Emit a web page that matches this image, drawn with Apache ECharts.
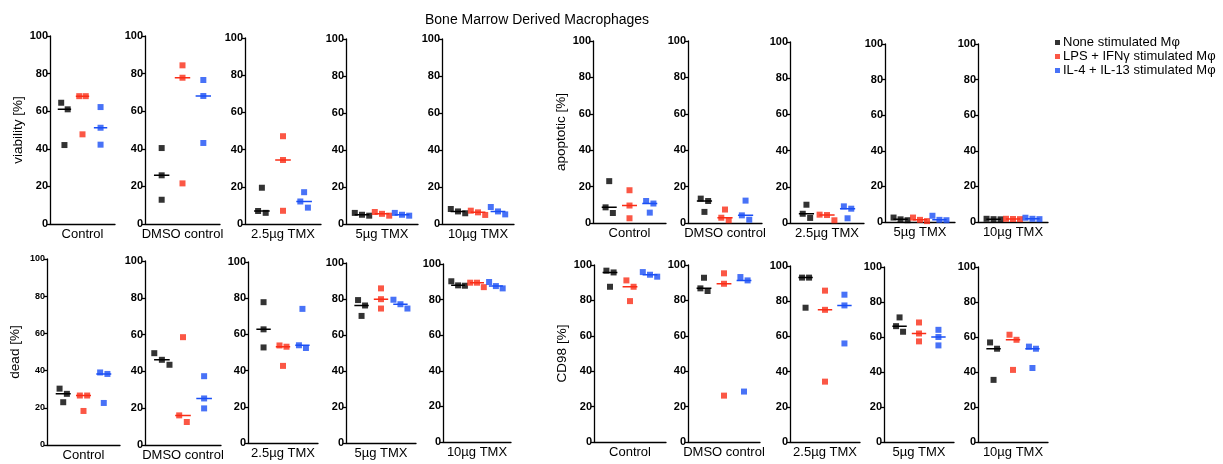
<!DOCTYPE html>
<html>
<head>
<meta charset="utf-8">
<title>Bone Marrow Derived Macrophages</title>
<script src="https://cdn.jsdelivr.net/npm/echarts@6/dist/echarts.min.js"></script>
<style>
html, body { margin: 0; padding: 0; background: #fff; }
#chart { width: 1223px; height: 464px; }
</style>
</head>
<body>
<div id="chart"></div>
<script>
const treatments = ['Control', 'DMSO control', '2.5µg TMX', '5µg TMX', '10µg TMX'];
const groupNames = ['None stimulated Mφ', 'LPS + IFNγ stimulated Mφ', 'IL-4 + IL-13 stimulated Mφ'];
const measureNames = ['viability [%]', 'apoptotic [%]', 'dead [%]', 'CD98 [%]'];

// one entry per treatment: [none, LPS + IFNγ, IL-4 + IL-13], three replicates each
const viability = [
  [[64.5, 61, 42], [68, 68, 47.7], [62.2, 51.2, 42.2]],
  [[40.4, 25.9, 12.9], [84.4, 77.8, 21.6], [76.6, 68.1, 43.1]],
  [[19.5, 7, 6], [47.2, 34.4, 7.1], [17.1, 12.1, 8.8]],
  [[6, 5, 4.5], [6.5, 5.5, 4.5], [6, 5, 4.5]],
  [[8.1, 6.8, 5.8], [7.2, 6.3, 4.9], [9.2, 6.8, 5.2]]
];
const apoptotic = [
  [[23, 8.6, 5.5], [18, 9.6, 2.6], [12.1, 10.7, 5.7]],
  [[13.4, 12.1, 6.1], [7.4, 2.9, 1.5], [12.3, 4.2, 1.8]],
  [[10.1, 5.1, 2.8], [4.6, 4.4, 1.5], [9.2, 7.9, 2.6]],
  [[2.5, 1.5, 1], [2.5, 1.2, 0.5], [3.5, 1.2, 1]],
  [[1.8, 1.6, 1.5], [1.8, 1.7, 1.6], [2.4, 1.8, 1.6]]
];
const dead = [
  [[30.3, 27.5, 23], [26.6, 26.6, 18.3], [39, 38.2, 22.6]],
  [[49.9, 46.3, 43.6], [58.6, 16.1, 12.5], [37.4, 25.3, 19.9]],
  [[77.8, 62.8, 52.8], [53.9, 53.2, 42.6], [74.1, 54, 52.5]],
  [[79.4, 76.4, 70.6], [85.9, 79.9, 74.7], [79.6, 77.1, 74.7]],
  [[90.3, 88, 87.8], [89.5, 89.5, 87], [89.9, 87.6, 86.3]]
];
const cd98 = [
  [[96.8, 95.8, 87.7], [91.3, 87.7, 79.6], [96, 94.5, 93.4]],
  [[92.8, 86.8, 85.3], [95.3, 89.4, 26.2], [93.2, 91.3, 28.5]],
  [[93.4, 93.4, 76.3], [86, 75.1, 34.3], [83.7, 77.6, 56]],
  [[71.2, 66.2, 63], [68.3, 62, 57.5], [64.1, 60, 55.2]],
  [[56.9, 53.3, 35.5], [61.3, 58.4, 41.2], [54.5, 53.3, 42.3]]
];
const measures = [viability, apoptotic, dead, cd98];

const colors = ['#000000', '#fa2d16', '#1a4ff5'];

// panel boxes [left, top, right, bottom] in px, per measure
const boxes = [
  [[50, 36, 115, 224], [145, 36, 220, 224], [245, 38, 321, 224], [346, 39, 418, 224], [442, 39, 514, 224]],
  [[593, 41, 666, 223], [688, 41, 762, 223], [790, 42, 864, 223], [885, 44, 955, 222], [978, 44, 1048, 222]],
  [[47, 259, 120, 445], [145, 261, 221, 445], [248, 262, 318, 443], [346, 263, 416, 443], [443, 264, 511, 442]],
  [[594, 265, 666, 442], [688, 265, 760, 442], [790, 266, 860, 442], [884, 267, 954, 442], [978, 267, 1048, 442]]
];

const JITTER = 0.36;   // x units between neighbouring points
const CLOSE = 4;       // y units under which points are spread sideways
const HALF = 0.37;     // half length of median bar

// spread points that would overlap, like a column scatter
function spread(values) {
  const idx = values.map((v, i) => i).sort((a, b) => values[b] - values[a]);
  const offsets = values.map(() => 0);
  let cluster = [idx[0]];
  const flush = () => {
    cluster.forEach((k, j) => { offsets[k] = (j - (cluster.length - 1) / 2) * JITTER; });
  };
  for (let j = 1; j < idx.length; j++) {
    if (values[cluster[cluster.length - 1]] - values[idx[j]] < CLOSE) cluster.push(idx[j]);
    else { flush(); cluster = [idx[j]]; }
  }
  flush();
  return offsets;
}

function median(values) {
  const s = values.slice().sort((a, b) => a - b);
  return s[Math.floor(s.length / 2)];
}

const font = 'Liberation Sans, Arial, Helvetica, sans-serif';
const grid = [], xAxis = [], yAxis = [], series = [];

measures.forEach((measure, m) => {
  measure.forEach((panel, p) => {
    const g = grid.length;
    const b = boxes[m][p];
    grid.push({ left: b[0], top: b[1], width: b[2] - b[0], height: b[3] - b[1] });

    xAxis.push({
      type: 'category', gridIndex: g, data: [treatments[p]],
      axisLine: { lineStyle: { color: '#000', width: 1.3 } },
      axisTick: { alignWithLabel: true, length: 3, lineStyle: { color: '#000', width: 1.3 } },
      axisLabel: { fontSize: 13, color: '#000', margin: 4, fontFamily: font }
    });
    xAxis.push({ type: 'value', gridIndex: g, min: 0.2, max: 3.8, show: false });

    yAxis.push({
      type: 'value', gridIndex: g, min: 0, max: 100, interval: 20,
      name: p === 0 ? measureNames[m] : '',
      nameLocation: 'middle', nameGap: 25, nameRotate: 90,
      nameTextStyle: { fontSize: 13.5, color: '#000', fontFamily: font },
      axisLine: { show: true, lineStyle: { color: '#000', width: 1.3 } },
      axisTick: { show: true, length: 3, lineStyle: { color: '#000', width: 1.3 } },
      axisLabel: {
        fontSize: (m === 2 && p === 0) ? 9 : 11, fontWeight: 'bold',
        color: '#000', margin: 2, fontFamily: font
      },
      splitLine: { show: false }
    });

    panel.forEach((values, k) => {
      const off = spread(values);
      const med = median(values);
      series.push({
        type: 'scatter', name: groupNames[k], xAxisIndex: 2 * g + 1, yAxisIndex: g,
        symbol: 'rect', symbolSize: 6, z: 3,
        itemStyle: { color: colors[k] },
        data: values.map((v, i) => [k + 1 + off[i], v])
      });
      series.push({
        type: 'line', xAxisIndex: 2 * g + 1, yAxisIndex: g,
        symbol: 'none', silent: true, z: 2,
        lineStyle: { color: colors[k], width: 1.5 },
        data: [[k + 1 - HALF, med], [k + 1 + HALF, med]]
      });
    });
  });
});

const chart = echarts.init(document.getElementById('chart'));
chart.setOption({
  animation: false,
  textStyle: { fontFamily: font },
  title: {
    text: 'Bone Marrow Derived Macrophages', left: 420, top: 8,
    textStyle: { fontSize: 14, fontWeight: 'normal', color: '#000', fontFamily: font }
  },
  legend: {
    data: groupNames, orient: 'vertical', left: 1050, top: 31,
    icon: 'rect', itemWidth: 5, itemHeight: 5, itemGap: 1, selectedMode: false,
    textStyle: { fontSize: 13, color: '#000', padding: [0, 0, 0, -2], fontFamily: font }
  },
  grid, xAxis, yAxis, series
});
</script>
</body>
</html>
